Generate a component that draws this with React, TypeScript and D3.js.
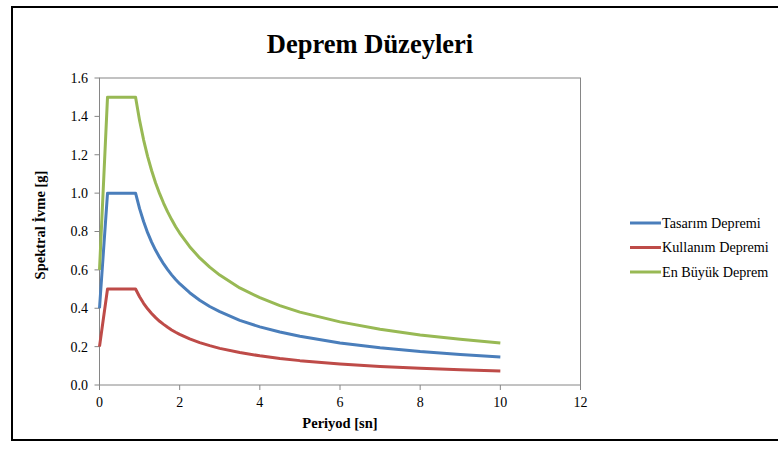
import React from "react";
import * as d3 from "d3";

// Periods [s] at which the spectra are tabulated
const periods = [0, 0.2, 0.9, 1.0, 1.1, 1.2, 1.3, 1.4, 1.5, 1.6, 1.7, 1.8, 1.9, 2.0, 2.25, 2.5, 2.75, 3.0, 3.5, 4.0, 4.5, 5, 6, 7, 8, 9, 10];

// Spectral acceleration [g] per earthquake level
const tasarim = [0.4, 1.0, 1.0, 0.919, 0.852, 0.794, 0.745, 0.702, 0.665, 0.631, 0.601, 0.574, 0.55, 0.528, 0.481, 0.442, 0.409, 0.382, 0.337, 0.303, 0.276, 0.254, 0.219, 0.194, 0.174, 0.159, 0.146];
const kullanim = [0.2, 0.5, 0.5, 0.46, 0.426, 0.397, 0.373, 0.351, 0.332, 0.316, 0.301, 0.287, 0.275, 0.264, 0.24, 0.221, 0.205, 0.191, 0.169, 0.152, 0.138, 0.127, 0.11, 0.097, 0.087, 0.079, 0.073];
const enBuyuk = [0.6, 1.5, 1.5, 1.379, 1.278, 1.192, 1.118, 1.053, 0.997, 0.947, 0.902, 0.862, 0.825, 0.792, 0.721, 0.662, 0.614, 0.573, 0.506, 0.455, 0.414, 0.38, 0.329, 0.291, 0.261, 0.238, 0.219];

const seriesNames = ["Tasarım Depremi", "Kullanım Depremi", "En Büyük Deprem"];
const seriesColors = ["#4A7EBB", "#BE4B48", "#98B954"];
const seriesValues = [tasarim, kullanim, enBuyuk];

const xTicks = [0, 2, 4, 6, 8, 10, 12];
const yTicks = [0, 0.2, 0.4, 0.6, 0.8, 1.0, 1.2, 1.4, 1.6];

const title = "Deprem Düzeyleri";
const xTitle = "Periyod [sn]";
const yTitle = "Spektral İvme [g]";

const FONT = "Liberation Serif, Times New Roman, serif";

export default function App() {
  const W = 778;
  const H = 451;
  const plot = { left: 99.5, right: 580.5, top: 78, bottom: 385 };
  const x = d3.scaleLinear().domain([0, 12]).range([plot.left, plot.right]);
  const y = d3.scaleLinear().domain([0, 1.6]).range([plot.bottom, plot.top]);
  const line = d3
    .line<number>()
    .x((_, i) => x(periods[i]))
    .y((d) => y(d));
  const axisColor = "#868686";
  const txt = { fontFamily: FONT, fill: "#000" };

  return (
    <svg
      width={W}
      height={H}
      style={{ position: "absolute", left: 0, top: 0, background: "#fff", fontFamily: FONT }}
    >
      <rect x={12} y={7} width={790} height={433} fill="#fff" stroke="#000" strokeWidth={2} />
      <text x={370} y={53} textAnchor="middle" fontSize={26.5} fontWeight="bold" style={txt}>
        {title}
      </text>

      {/* plot frame */}
      <rect
        x={plot.left}
        y={plot.top}
        width={plot.right - plot.left}
        height={plot.bottom - plot.top}
        fill="none"
        stroke={axisColor}
        strokeWidth={1}
      />

      {/* y axis ticks */}
      {yTicks.map((t) => (
        <g key={"y" + t}>
          <line x1={plot.left - 5} x2={plot.left} y1={y(t)} y2={y(t)} stroke={axisColor} />
          <text x={88} y={y(t)} dy="0.35em" textAnchor="end" fontSize={14} style={txt}>
            {t.toFixed(1)}
          </text>
        </g>
      ))}

      {/* x axis ticks */}
      {xTicks.map((t) => (
        <g key={"x" + t}>
          <line x1={x(t)} x2={x(t)} y1={plot.bottom} y2={plot.bottom + 5} stroke={axisColor} />
          <text x={x(t)} y={407} textAnchor="middle" fontSize={14} style={txt}>
            {t}
          </text>
        </g>
      ))}

      {/* spectra */}
      {seriesValues.map((vals, i) => (
        <path
          key={seriesNames[i]}
          d={line(vals) || ""}
          fill="none"
          stroke={seriesColors[i]}
          strokeWidth={3}
          strokeLinejoin="round"
        />
      ))}

      <text x={340} y={428} textAnchor="middle" fontSize={14.5} fontWeight="bold" style={txt}>
        {xTitle}
      </text>
      <text
        transform={`translate(45, 225) rotate(-90)`}
        textAnchor="middle"
        fontSize={14.5}
        fontWeight="bold"
        style={txt}
      >
        {yTitle}
      </text>

      {/* legend */}
      {seriesNames.map((name, i) => (
        <g key={"lg" + i} transform={`translate(630, ${223 + i * 24.5})`}>
          <line x1={0} x2={31} y1={0} y2={0} stroke={seriesColors[i]} strokeWidth={3} />
          <text x={32} y={0} dy="0.35em" fontSize={14.2} style={txt}>
            {name}
          </text>
        </g>
      ))}
    </svg>
  );
}
